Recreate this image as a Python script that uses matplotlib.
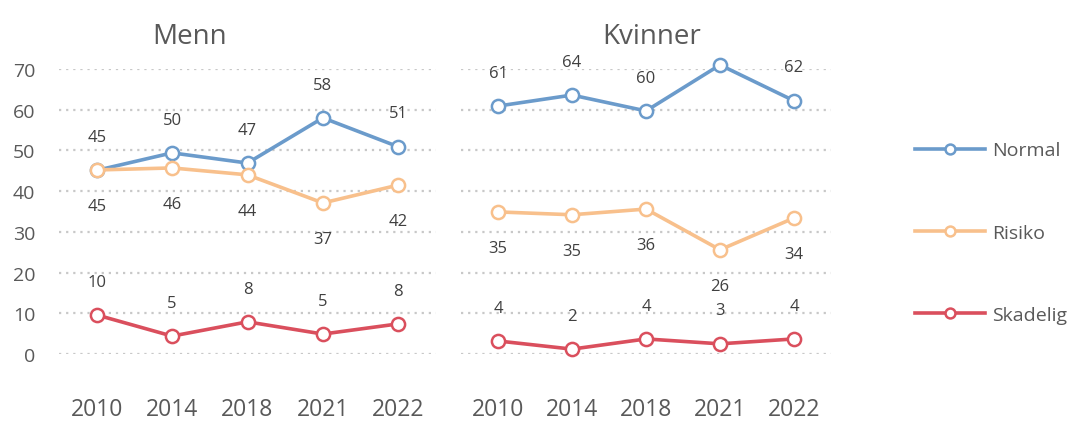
import matplotlib.pyplot as plt

years = ['2010', '2014', '2018', '2021', '2022']

# Menn
menn_normal = [45.1, 49.4, 46.9, 58.0, 50.9]
menn_risiko = [45.2, 45.7, 44.0, 37.1, 41.5]
menn_skadelig = [9.6, 4.4, 7.9, 4.9, 7.4]
menn_normal_lbl = [45, 50, 47, 58, 51]
menn_risiko_lbl = [45, 46, 44, 37, 42]
menn_skadelig_lbl = [10, 5, 8, 5, 8]

# Kvinner
kv_normal = [60.9, 63.6, 59.7, 71.0, 62.2]
kv_risiko = [34.9, 34.2, 35.6, 25.6, 33.4]
kv_skadelig = [3.2, 1.2, 3.7, 2.5, 3.7]
kv_normal_lbl = [61, 64, 60, 71, 62]
kv_risiko_lbl = [35, 35, 36, 26, 34]
kv_skadelig_lbl = [4, 2, 4, 3, 4]

series_names = ['Normal', 'Risiko', 'Skadelig']
colors = ['#6b9bcb', '#f8c08c', '#da4f5d']
grey = '#595959'

plt.rcParams['font.family'] = ['Open Sans', 'DejaVu Sans']

fig = plt.figure(figsize=(10.79, 4.27), dpi=100)
W, H = 1079, 427
top_px, bot_px = 70, 355
ax1 = fig.add_axes([59 / W, 1 - bot_px / H, 377 / W, (bot_px - top_px) / H])
ax2 = fig.add_axes([461 / W, 1 - bot_px / H, 370 / W, (bot_px - top_px) / H])


def draw(ax, data, labels, offsets, title, title_x, show_y):
    x = list(range(len(years)))
    for vals, lbls, c, off, name in zip(data, labels, colors, offsets, series_names):
        ax.plot(x, vals, color=c, lw=2.6, marker='o', ms=9.5, mfc='white',
                mec=c, mew=1.8, clip_on=False, label=name, zorder=3)
        for xi, v, l in zip(x, vals, lbls):
            ax.annotate(str(l), (xi, v), xytext=(0, off), textcoords='offset points',
                        ha='center', va='center', fontsize=12, color='#404040')
    ax.set_xlim(-0.5, 4.5)
    ax.set_ylim(0, 70)
    ax.set_yticks(range(0, 71, 10))
    ax.grid(axis='y', color='#c8c8c8', lw=1.6, linestyle=(0, (1, 2.2)))
    ax.set_axisbelow(True)
    for s in ax.spines.values():
        s.set_visible(False)
    ax.set_xticks(x)
    ax.set_xticklabels(years, fontsize=16.5, color=grey)
    ax.tick_params(axis='x', length=0, pad=31)
    ax.tick_params(axis='y', length=0, pad=17, labelsize=14, labelcolor=grey)
    if not show_y:
        ax.set_yticklabels([])
    ax.text(title_x, 1 + 33 / 285, title, transform=ax.transAxes, ha='center',
            va='center', fontsize=20, color=grey)


draw(ax1, [menn_normal, menn_risiko, menn_skadelig],
     [menn_normal_lbl, menn_risiko_lbl, menn_skadelig_lbl],
     [24, -26, 24], 'Menn', 0.347, True)
draw(ax2, [kv_normal, kv_risiko, kv_skadelig],
     [kv_normal_lbl, kv_risiko_lbl, kv_skadelig_lbl],
     [24, -26, 24], 'Kvinner', 0.516, False)

handles, lbls = ax1.get_legend_handles_labels()
fig.legend(handles, lbls, loc='upper left', bbox_to_anchor=(897 / W, 1 - 125 / H),
           frameon=False, fontsize=14, labelcolor=grey, handlelength=3.6,
           labelspacing=3.3, handletextpad=0.4, markerscale=0.75)

fig.savefig('out.png', dpi=100)
